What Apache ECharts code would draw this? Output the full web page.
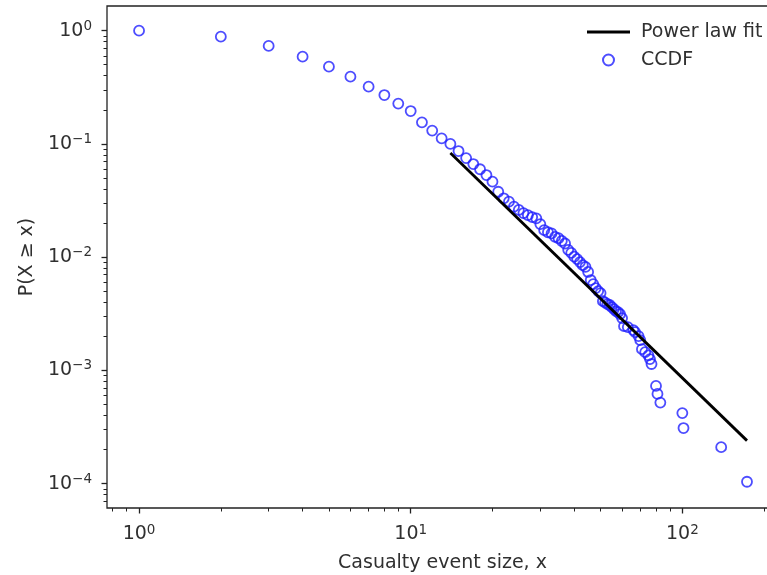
<!DOCTYPE html>
<html>
<head>
<meta charset="utf-8">
<script src="https://cdn.jsdelivr.net/npm/echarts@6/dist/echarts.min.js"></script>
<style>
  html, body { margin: 0; padding: 0; background: #fff; }
  #chart { width: 767px; height: 575px; }
</style>
</head>
<body>
<div id="chart"></div>
<script>
// Casualty event sizes (unique values) and their empirical CCDF, P(X >= x)
const eventSize = [1, 2, 3, 4, 5, 6, 7, 8, 9, 10, 11, 12, 13, 14, 15, 16, 17, 18, 19, 20,
  21, 22, 23, 24, 25, 26, 27, 28, 29, 30, 31, 32, 33, 34, 35, 36, 37, 38, 39, 40,
  41, 42, 43, 44, 45, 46, 47, 48, 49, 50, 51, 52, 53, 54, 55, 56, 57, 58, 59, 60,
  61, 63, 66, 67, 69, 70, 71, 73, 75, 76, 77, 80, 81, 83, 100, 101, 139, 173];
const ccdf = [1.0, 0.885, 0.733, 0.589, 0.481, 0.392, 0.320, 0.270, 0.227, 0.195,
  0.155, 0.131, 0.112, 0.100, 0.0865, 0.0750, 0.0664, 0.0597, 0.0531, 0.0464,
  0.0378, 0.0331, 0.0309, 0.0279, 0.0261, 0.0245, 0.0235, 0.0226, 0.0220, 0.0196,
  0.0173, 0.0166, 0.0162, 0.0151, 0.0147, 0.0139, 0.0132, 0.0116, 0.0109, 0.0101,
  0.00962, 0.00905, 0.0085, 0.0082, 0.0074, 0.00628, 0.00578, 0.00533, 0.00502, 0.00482,
  0.00409, 0.00397, 0.00385, 0.00378, 0.00362, 0.00348, 0.00334, 0.00327, 0.00314, 0.0029,
  0.00246, 0.00241, 0.00227, 0.00218, 0.00201, 0.00185, 0.00154, 0.00145, 0.00136, 0.00126,
  0.00114, 0.00073, 0.00062, 0.00052, 0.00042, 0.00031, 0.00021, 0.000104];

// Power-law fit segment, from x_min to the largest event
const fitX = [14, 173];
const fitY = [0.083, 0.00024];

// Decade ticks
const xMajorTicks = [1, 10, 100];
const yMajorTicks = [1e-4, 1e-3, 1e-2, 1e-1, 1];

const xRange = [0.762, 225];
const yRange = [6.1e-5, 1.65];

// Minor log ticks (2..9 within each decade) inside a range
function minorTicks(range) {
  const out = [];
  for (let e = -6; e <= 3; e++) {
    for (let m = 2; m <= 9; m++) {
      const v = m * Math.pow(10, e);
      if (v >= range[0] && v <= range[1]) out.push(v);
    }
  }
  return out;
}

const FONT = 'DejaVu Sans';
const INK = '#303030';
const FS = 19;
const MARKER = '#2020ff';

function powLabel(v) {
  const e = Math.round(Math.log10(v));
  const exp = e < 0 ? '\u2212' + (-e) : String(e);
  return '{b|10}{s|' + exp + '}';
}
const powRich = {
  b: { fontFamily: FONT, fontSize: FS, color: INK, lineHeight: 23 },
  s: { fontFamily: FONT, fontSize: 13.5, color: INK, lineHeight: 14, verticalAlign: 'top' }
};

const chart = echarts.init(document.getElementById('chart'), null, { renderer: 'canvas' });

const axisLineStyle = { color: '#222', width: 1.3 };

chart.setOption({
  animation: false,
  backgroundColor: '#ffffff',
  grid: {
    left: 107, top: 6, right: -11, bottom: 67,
    show: true, borderColor: '#222', borderWidth: 1.3,
    outerBoundsMode: 'none'
  },
  legend: {
    orient: 'vertical',
    left: 587, top: 22, padding: 0,
    itemWidth: 43, itemHeight: 11, itemGap: 8,
    textStyle: { fontFamily: FONT, fontSize: FS, color: INK, lineHeight: 20, padding: [0, 0, 0, 6] },
    data: [
      { name: 'Power law fit', icon: 'path://M0,0 L43,0 L43,3 L0,3 Z',
        itemStyle: { color: '#000', borderWidth: 0 } },
      { name: 'CCDF', icon: 'circle',
        itemStyle: { color: 'rgba(0,0,0,0)', borderColor: MARKER, borderWidth: 2 } }
    ]
  },
  xAxis: [
    {
      type: 'log', logBase: 10, min: xRange[0], max: xRange[1],
      position: 'bottom',
      name: 'Casualty event size, x', nameLocation: 'middle', nameGap: 46,
      nameTextStyle: { fontFamily: FONT, fontSize: FS, color: INK },
      axisLine: { show: false },
      axisTick: { show: true, length: 5.5, customValues: xMajorTicks, lineStyle: axisLineStyle },
      axisLabel: { show: true, margin: 15, customValues: xMajorTicks, formatter: powLabel, rich: powRich },
      splitLine: { show: false }, minorTick: { show: false }
    },
    {
      type: 'log', logBase: 10, min: xRange[0], max: xRange[1],
      position: 'bottom',
      axisLine: { show: false },
      axisTick: { show: true, length: 3.5, customValues: minorTicks(xRange), lineStyle: { color: '#222', width: 1 } },
      axisLabel: { show: false },
      splitLine: { show: false }
    }
  ],
  yAxis: [
    {
      type: 'log', logBase: 10, min: yRange[0], max: yRange[1],
      position: 'left',
      name: 'P(X \u2265 x)', nameLocation: 'middle', nameGap: 64,
      nameTextStyle: { fontFamily: FONT, fontSize: FS, color: INK },
      axisLine: { show: false },
      axisTick: { show: true, length: 5.5, customValues: yMajorTicks, lineStyle: axisLineStyle },
      axisLabel: { show: true, margin: 15, customValues: yMajorTicks, formatter: powLabel, rich: powRich },
      splitLine: { show: false }, minorTick: { show: false }
    },
    {
      type: 'log', logBase: 10, min: yRange[0], max: yRange[1],
      position: 'left',
      axisLine: { show: false },
      axisTick: { show: true, length: 3.5, customValues: minorTicks(yRange), lineStyle: { color: '#222', width: 1 } },
      axisLabel: { show: false },
      splitLine: { show: false }
    }
  ],
  series: [
    {
      name: 'Power law fit',
      type: 'line',
      xAxisIndex: 0, yAxisIndex: 0,
      data: fitX.map((x, i) => [x, fitY[i]]),
      symbol: 'none',
      lineStyle: { color: '#000', width: 2.8 },
      itemStyle: { color: '#000' },
      z: 3
    },
    {
      name: 'CCDF',
      type: 'scatter',
      xAxisIndex: 0, yAxisIndex: 0,
      data: eventSize.map((x, i) => [x, ccdf[i]]),
      symbol: 'circle',
      symbolSize: 10,
      itemStyle: { color: 'rgba(0,0,0,0)', borderColor: MARKER, borderWidth: 1.8 },
      z: 2
    }
  ]
});
</script>
</body>
</html>
